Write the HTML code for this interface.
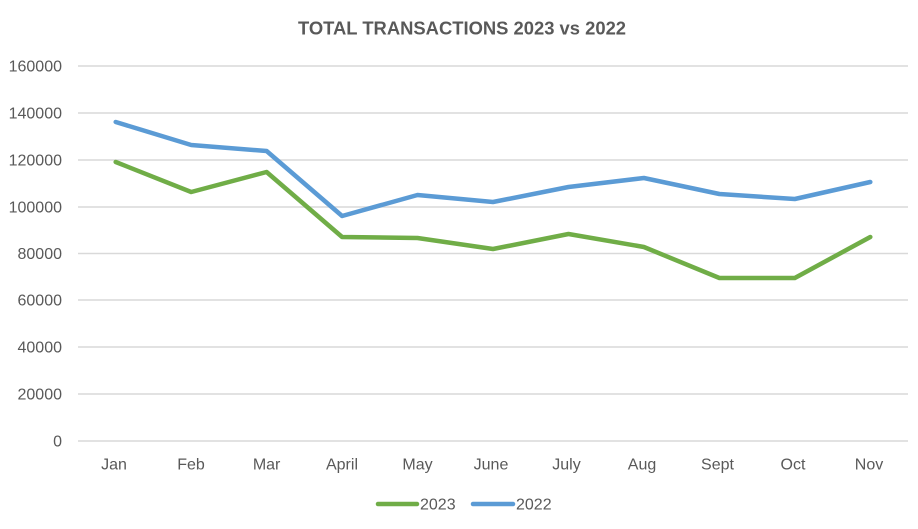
<!DOCTYPE html>
<html>
<head>
<meta charset="utf-8">
<style>
  html, body { margin: 0; padding: 0; background: #fff; }
  svg { display: block; }
  text { font-family: "Liberation Sans", sans-serif; fill: #595959; }
</style>
</head>
<body>
<svg width="918" height="529" viewBox="0 0 918 529" xmlns="http://www.w3.org/2000/svg">
  <rect width="918" height="529" fill="#ffffff"/>
  <text x="462" y="34.5" text-anchor="middle" font-size="18.4" font-weight="bold">TOTAL TRANSACTIONS 2023 vs 2022</text>

  <g stroke="#d9d9d9" stroke-width="1.5">
    <line x1="78" y1="66" x2="908" y2="66"/>
    <line x1="78" y1="113" x2="908" y2="113"/>
    <line x1="78" y1="160" x2="908" y2="160"/>
    <line x1="78" y1="207" x2="908" y2="207"/>
    <line x1="78" y1="253.5" x2="908" y2="253.5"/>
    <line x1="78" y1="300" x2="908" y2="300"/>
    <line x1="78" y1="347" x2="908" y2="347"/>
    <line x1="78" y1="394" x2="908" y2="394"/>
    <line x1="78" y1="441" x2="908" y2="441"/>
  </g>

  <g font-size="16" text-anchor="end">
    <text x="62" y="71.5">160000</text>
    <text x="62" y="118.5">140000</text>
    <text x="62" y="165.5">120000</text>
    <text x="62" y="212.5">100000</text>
    <text x="62" y="259">80000</text>
    <text x="62" y="305.5">60000</text>
    <text x="62" y="352.5">40000</text>
    <text x="62" y="399.5">20000</text>
    <text x="62" y="446.5">0</text>
  </g>

  <g font-size="16" text-anchor="middle">
    <text x="114" y="469.5">Jan</text>
    <text x="191" y="469.5">Feb</text>
    <text x="266.6" y="469.5">Mar</text>
    <text x="342" y="469.5">April</text>
    <text x="417.5" y="469.5">May</text>
    <text x="491" y="469.5">June</text>
    <text x="566.5" y="469.5">July</text>
    <text x="642" y="469.5">Aug</text>
    <text x="717.5" y="469.5">Sept</text>
    <text x="793" y="469.5">Oct</text>
    <text x="869" y="469.5">Nov</text>
  </g>

  <polyline fill="none" stroke="#5b9bd5" stroke-width="4.5" stroke-linecap="round" stroke-linejoin="round"
    points="115.7,122 191.2,145 266.6,151 342.1,216 417.5,195 493,202 568.5,187 643.9,178 719.4,194 794.8,199 870.3,182"/>
  <polyline fill="none" stroke="#70ad47" stroke-width="4.5" stroke-linecap="round" stroke-linejoin="round"
    points="115.7,162 191.2,192 266.6,172 342.1,237 417.5,238 493,249 568.5,234 643.9,247 719.4,278 794.8,278 870.3,237"/>

  <line x1="378" y1="504" x2="417" y2="504" stroke="#70ad47" stroke-width="4.5" stroke-linecap="round"/>
  <text x="420" y="509.5" font-size="16">2023</text>
  <line x1="473" y1="504" x2="513" y2="504" stroke="#5b9bd5" stroke-width="4.5" stroke-linecap="round"/>
  <text x="516" y="509.5" font-size="16">2022</text>
</svg>
</body>
</html>
